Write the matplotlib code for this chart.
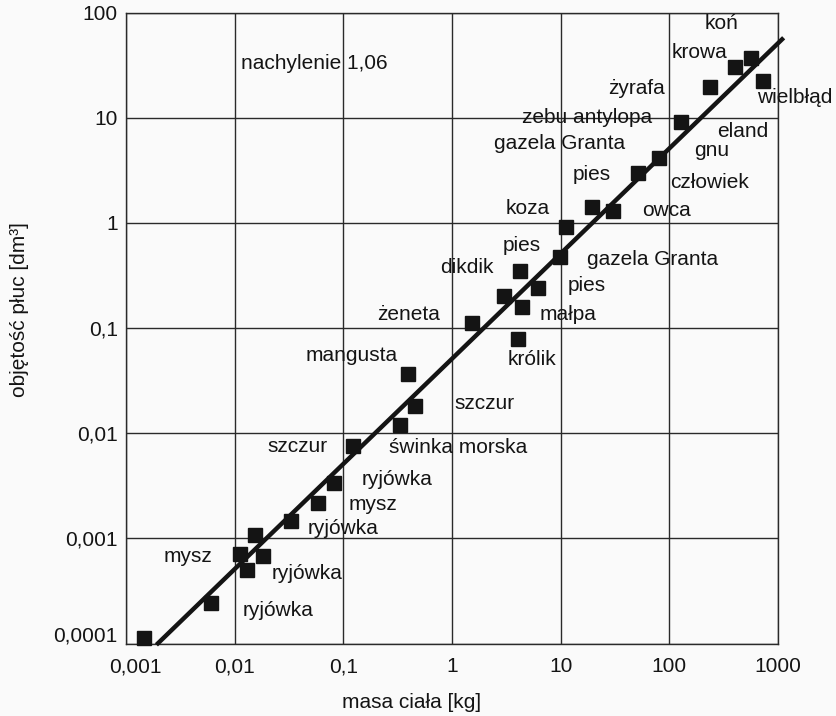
import numpy as np
import matplotlib
matplotlib.use('Agg')
import matplotlib.pyplot as plt
import matplotlib.transforms as mtransforms


# dane: masa ciała [kg] i objętość płuc [dm3]
masa = [0.00147, 0.00607, 0.01125, 0.01305, 0.01549, 0.01837, 0.0333, 0.0581, 0.0817,
        0.122, 0.396, 0.459, 0.335, 1.538, 2.99, 4.41, 4.23, 6.23, 4.05, 9.79,
        11.1, 19.6, 30.5, 51.5, 80.2, 127, 239, 404, 566, 729]
objetosc = [0.000112, 0.000243, 0.000711, 0.000501, 0.00108, 0.000681, 0.001466, 0.00217, 0.00336,
            0.00753, 0.0362, 0.01803, 0.0119, 0.1105, 0.201, 0.157, 0.349, 0.240, 0.0794, 0.476,
            0.905, 1.40, 1.285, 3.01, 4.18, 9.16, 19.7, 30.4, 37.1, 22.4]

# prosta dopasowania (log-log)
wsp_a = 0.051
wsp_b = 1.0
zakres_prostej = [0.00197, 1090]

# podpisy zwierząt
nazwy = ['koń', 'krowa', 'żyrafa', 'wielbłąd', 'zebu antylopa', 'eland', 'gazela Granta', 'gnu',
         'pies', 'człowiek', 'koza', 'owca', 'pies', 'gazela Granta', 'dikdik', 'pies', 'małpa',
         'żeneta', 'królik', 'mangusta', 'szczur', 'szczur', 'świnka morska', 'ryjówka', 'mysz',
         'ryjówka', 'mysz', 'ryjówka', 'ryjówka']
pozycje_nazw = [(305, 79.4), (191, 42.1), (50.4, 19.1), (1432, 15.4), (17.5, 9.93), (476, 7.31),
                (9.86, 5.62), (247, 4.82), (19.4, 2.85), (237, 2.44), (5.0, 1.38), (95, 1.32),
                (4.41, 0.615), (70.8, 0.444), (1.37, 0.380), (17.5, 0.251), (11.7, 0.133),
                (0.402, 0.133), (5.45, 0.0497), (0.120, 0.0542), (2.01, 0.01935), (0.0375, 0.00755),
                (1.135, 0.00738), (0.312, 0.00359), (0.1875, 0.002075), (0.0993, 0.001228),
                (0.00372, 0.000679), (0.0463, 0.000468), (0.0251, 0.000204)]

x_ticks = [0.001, 0.01, 0.1, 1, 10, 100, 1000]
x_tick_labels = ['0,001', '0,01', '0,1', '1', '10', '100', '1000']
y_ticks = [0.0001, 0.001, 0.01, 0.1, 1, 10, 100]
y_tick_labels = ['0,0001', '0,001', '0,01', '0,1', '1', '10', '100']

plt.rcParams['font.family'] = ['Liberation Sans', 'DejaVu Sans']
ROZMIAR = 15
KOLOR = '#141414'
TLO = '#fafafa'

fig = plt.figure(figsize=(8.37, 7.16), dpi=100, facecolor=TLO)
ax = fig.add_axes([126 / 837, 1 - 643.5 / 716, 652 / 837, 631 / 716], facecolor=TLO)

ax.set_xscale('log')
ax.set_yscale('log')
ax.set_xlim(0.001, 1000)
ax.set_ylim(0.0001, 100)

ax.set_xticks(x_ticks)
ax.set_xticklabels(x_tick_labels)
ax.set_yticks(y_ticks)
ax.set_yticklabels(y_tick_labels)
ax.minorticks_off()
ax.tick_params(axis='both', length=0, labelsize=ROZMIAR, colors=KOLOR)
ax.tick_params(axis='x', pad=10)
ax.tick_params(axis='y', pad=6)

ax.grid(True, color='#2a2a2a', linewidth=1.0)
for s in ax.spines.values():
    s.set_color('#2a2a2a')
    s.set_linewidth(1.0)
ax.set_axisbelow(True)

# drobne przesunięcia skrajnych podpisów osi
dx = mtransforms.ScaledTranslation(9 / 100, 0, fig.dpi_scale_trans)
lab = ax.get_xticklabels()[0]
lab.set_transform(lab.get_transform() + dx)
dy = mtransforms.ScaledTranslation(0, 10 / 100, fig.dpi_scale_trans)
lab = ax.get_yticklabels()[0]
lab.set_transform(lab.get_transform() + dy)

# prosta
xl = np.logspace(np.log10(zakres_prostej[0]), np.log10(zakres_prostej[1]), 50)
ax.plot(xl, wsp_a * xl ** wsp_b, color=KOLOR, linewidth=3.2, clip_on=False, zorder=3)

# punkty
ax.plot(masa, objetosc, 's', color=KOLOR, markersize=9.5, clip_on=False, zorder=4)

# podpisy
for nazwa, (px, py) in zip(nazwy, pozycje_nazw):
    ax.text(px, py, nazwa, fontsize=ROZMIAR, color=KOLOR, ha='center', va='center',
            clip_on=False, zorder=5)
ax.text(0.0114, 33, 'nachylenie 1,06', fontsize=ROZMIAR, color=KOLOR, ha='left', va='center')

fig.text(412 / 837, 1 - 703 / 716, 'masa ciała [kg]', fontsize=ROZMIAR, color=KOLOR,
         ha='center', va='center')
fig.text(20 / 837, 1 - 310 / 716, 'objętość płuc [dm³]', fontsize=ROZMIAR, color=KOLOR,
         ha='center', va='center', rotation=90)

fig.savefig('out.png', dpi=100, facecolor=TLO)
